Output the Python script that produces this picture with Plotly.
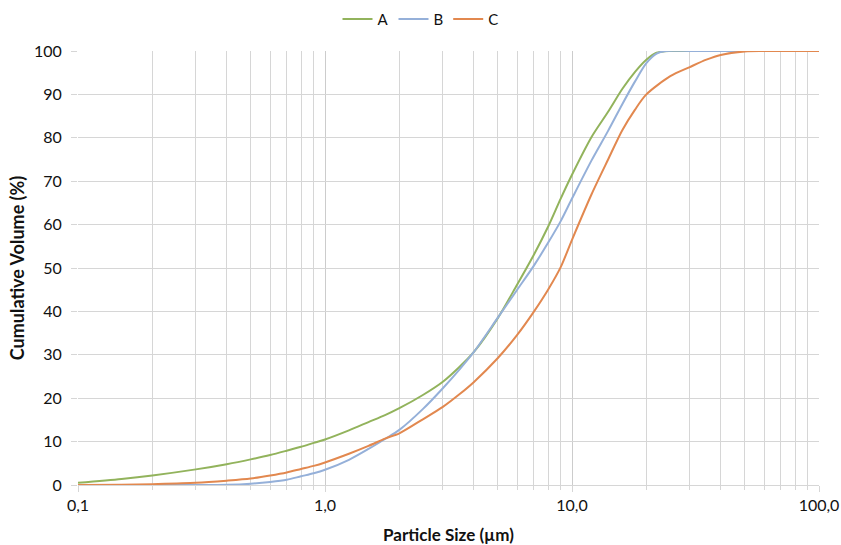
import plotly.graph_objects as go

size_a = [0.1, 0.15, 0.2, 0.3, 0.4, 0.5, 0.6, 0.7, 0.8, 0.9, 1.0, 1.25, 1.5, 1.75, 2, 2.5, 3, 3.5, 4, 5, 6, 7, 8, 9, 10, 12, 14, 16, 18, 20, 22, 25, 30, 40, 50, 70, 100]
vol_a = [0.5, 1.4, 2.2, 3.6, 4.8, 5.9, 6.9, 7.9, 8.8, 9.7, 10.5, 12.6, 14.5, 16.1, 17.7, 20.8, 23.8, 27.2, 30.6, 38.4, 46.2, 53.0, 59.5, 66.0, 71.5, 80.2, 86.0, 91.3, 95.2, 98.0, 99.6, 100, 100, 100, 100, 100, 100]

size_b = [0.1, 0.2, 0.3, 0.4, 0.5, 0.6, 0.7, 0.8, 0.9, 1.0, 1.25, 1.5, 1.75, 2, 2.5, 3, 3.5, 4, 5, 6, 7, 8, 9, 10, 12, 14, 16, 18, 20, 22, 24, 30, 40, 50, 70, 100]
vol_b = [0, 0, 0, 0.05, 0.3, 0.7, 1.2, 2.0, 2.7, 3.5, 5.8, 8.3, 10.6, 12.7, 17.6, 22.3, 26.6, 30.6, 38.5, 45.0, 50.5, 55.8, 60.8, 66.0, 74.8, 81.6, 87.8, 93.0, 97.2, 99.4, 100, 100, 100, 100, 100, 100]

size_c = [0.1, 0.15, 0.2, 0.3, 0.4, 0.5, 0.6, 0.7, 0.8, 0.9, 1.0, 1.25, 1.5, 1.75, 2, 2.5, 3, 3.5, 4, 5, 6, 7, 8, 9, 10, 12, 14, 16, 18, 20, 25, 30, 35, 40, 50, 60, 100]
vol_c = [0, 0.05, 0.2, 0.5, 1.0, 1.5, 2.2, 2.9, 3.7, 4.4, 5.2, 7.2, 9.0, 10.7, 11.9, 15.2, 18.0, 20.9, 23.7, 29.2, 34.6, 39.9, 45.0, 50.2, 56.5, 67.0, 75.0, 81.8, 86.5, 90.0, 94.2, 96.3, 98.0, 99.1, 99.9, 100, 100]

x_tickvals = [0.1, 1, 10, 100]
x_ticktext = ["0,1", "1,0", "10,0", "100,0"]
x_minor = [m * d for d in (0.1, 1, 10) for m in range(2, 10)]

FONT = "Lato, 'Open Sans', sans-serif"
GRID = "#d6d6d6"

fig = go.Figure()
for name, xs, ys, col in [("A", size_a, vol_a, "#92b35c"),
                          ("B", size_b, vol_b, "#95b0d9"),
                          ("C", size_c, vol_c, "#e2884f")]:
    fig.add_trace(go.Scatter(x=xs, y=ys, name=name, mode="lines",
                             line=dict(color=col, width=2, shape="spline", smoothing=0.8)))

fig.update_layout(
    width=841, height=545,
    margin=dict(l=78, r=22, t=51, b=60, autoexpand=False),
    paper_bgcolor="white", plot_bgcolor="white",
    font=dict(family=FONT, size=15, color="#111"),
    legend=dict(orientation="h", xref="container", x=0.5, xanchor="center",
                yref="container", y=0.995, yanchor="top",
                font=dict(size=15, color="#111"), itemwidth=30, tracegroupgap=0),
    showlegend=True,
)
fig.update_xaxes(type="log", range=[-1, 2],
                 tickvals=x_tickvals, ticktext=x_ticktext,
                 showgrid=True, gridcolor="#cccccc", gridwidth=1,
                 showline=True, linecolor=GRID, linewidth=1,
                 ticks="outside", ticklen=6, tickcolor=GRID,
                 tickfont=dict(size=16), zeroline=False,
                 minor=dict(tickvals=x_minor, showgrid=True, gridcolor=GRID, gridwidth=1,
                            ticks="outside", ticklen=4, tickcolor=GRID),
                 title=dict(text="<b>Particle Size (µm)</b>", font=dict(size=17), standoff=16))
fig.update_yaxes(range=[0, 100], tickvals=list(range(0, 101, 10)),
                 showgrid=True, gridcolor=GRID, gridwidth=1,
                 showline=False, zeroline=False,
                 ticks="outside", ticklen=6, tickcolor=GRID,
                 ticklabelstandoff=6,
                 tickfont=dict(size=16),
                 title=dict(text="<b>Cumulative Volume (%)</b>", font=dict(size=18), standoff=4))

fig.write_html("out.html", config={"displayModeBar": False},
               post_script="document.body.style.margin='0';document.body.style.padding='0';")
